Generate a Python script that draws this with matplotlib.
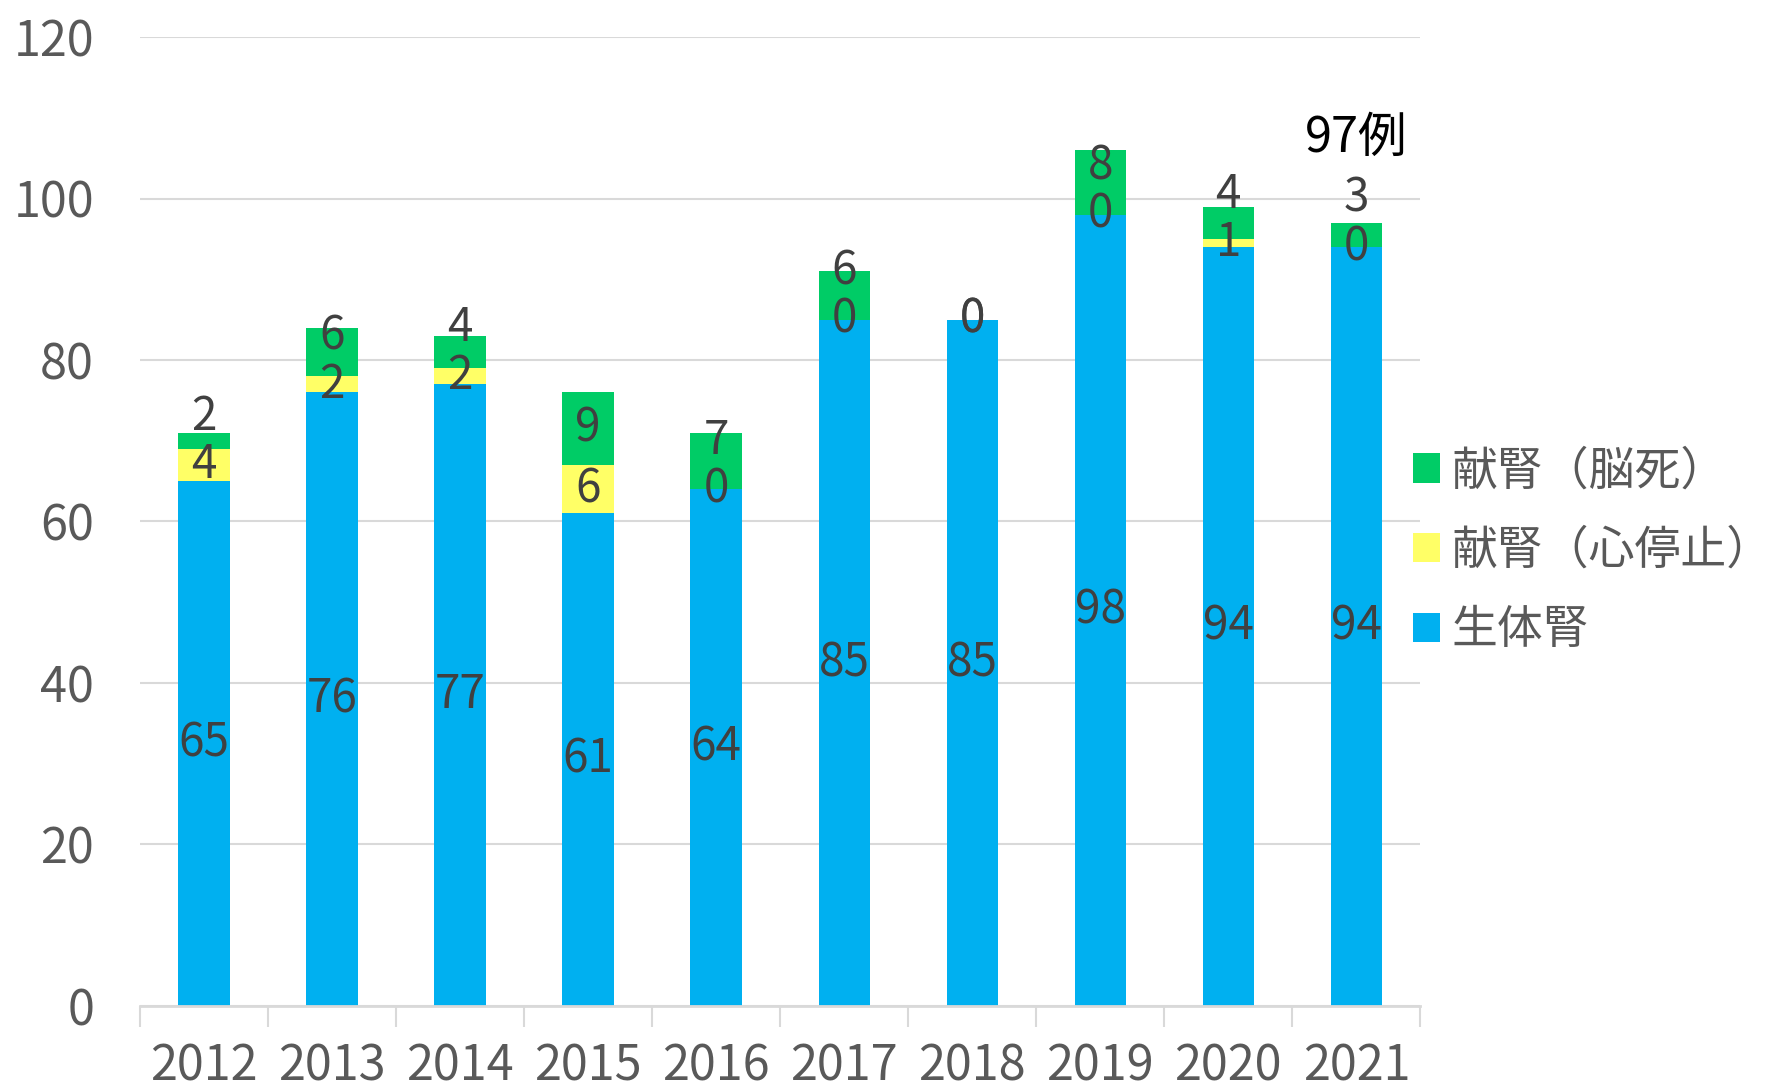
import matplotlib.pyplot as plt
import numpy as np

plt.rcParams['font.family'] = ['Noto Sans CJK JP', 'DejaVu Sans']

# Data -------------------------------------------------------------------

years = ['2012', '2013', '2014', '2015', '2016', '2017', '2018', '2019', '2020', '2021']
living = [65, 76, 77, 61, 64, 85, 85, 98, 94, 94]        # 生体腎
cardiac = [4, 2, 2, 6, 0, 0, 0, 0, 1, 0]                 # 献腎（心停止）
brain = [2, 6, 4, 9, 7, 6, 0, 8, 4, 3]                   # 献腎（脳死）
series_names = ['生体腎', '献腎（心停止）', '献腎（脳死）']
note_text = '97例'

#-------------------------------------------------------------------------

colors = ['#00B0F0', '#FFFF66', '#00CC66']
label_color = '#404040'
tick_color = '#595959'

fig = plt.figure(figsize=(17.71, 10.91), dpi=100)
ax = fig.add_axes([0.079, 0.078, 0.723, 0.888])

x = np.arange(len(years))
width = 0.4
bottom = np.zeros(len(years))
handles = []
prev_label_y = None
for vals, col, name in zip([living, cardiac, brain], colors, series_names):
    vals = np.array(vals, dtype=float)
    bars = ax.bar(x, vals, width, bottom=bottom, color=col, label=name, zorder=2)
    handles.append(bars)
    label_y = bottom + vals / 2
    # push the top label up a bit when it would sit on the one below (like Excel)
    if name == series_names[2] and prev_label_y is not None:
        label_y = np.where(vals > 0, np.maximum(label_y, prev_label_y + 6), label_y)
    for xi, ly, v in zip(x, label_y, vals):
        ax.text(xi, ly, f'{int(v)}', ha='center', va='center',
                fontsize=33, color=label_color, zorder=3)
    prev_label_y = label_y
    bottom += vals

ax.text(9, 107.5, note_text, ha='center', va='center', fontsize=35, color='black')

ax.set_xlim(-0.5, len(years) - 0.5)
ax.set_ylim(0, 120)
ax.set_yticks(range(0, 121, 20))
ax.tick_params(axis='y', length=0, labelsize=35, labelcolor=tick_color, pad=33)
ax.yaxis.grid(True, color='#D9D9D9', linewidth=1.5, zorder=0)
ax.set_axisbelow(True)

# x tick labels centred on bars, tick marks at category boundaries
ax.set_xticks(x)
ax.set_xticklabels(years)
ax.tick_params(axis='x', length=0, labelsize=35, labelcolor=tick_color, pad=26)
ax.set_xticks(np.arange(-0.5, len(years), 1), minor=True)
ax.tick_params(axis='x', which='minor', length=15, color='#D9D9D9', width=1.5)

for s in ['top', 'right', 'left']:
    ax.spines[s].set_visible(False)
ax.spines['bottom'].set_color('#D9D9D9')
ax.spines['bottom'].set_linewidth(2)

leg = ax.legend(handles[::-1], series_names[::-1], loc='center left',
                bbox_to_anchor=(0.962, 0.47), frameon=False, fontsize=33,
                handlelength=0.6, handleheight=0.6, handletextpad=0.25,
                labelspacing=0.68, labelcolor=tick_color)

fig.savefig('out.png', dpi=100)
